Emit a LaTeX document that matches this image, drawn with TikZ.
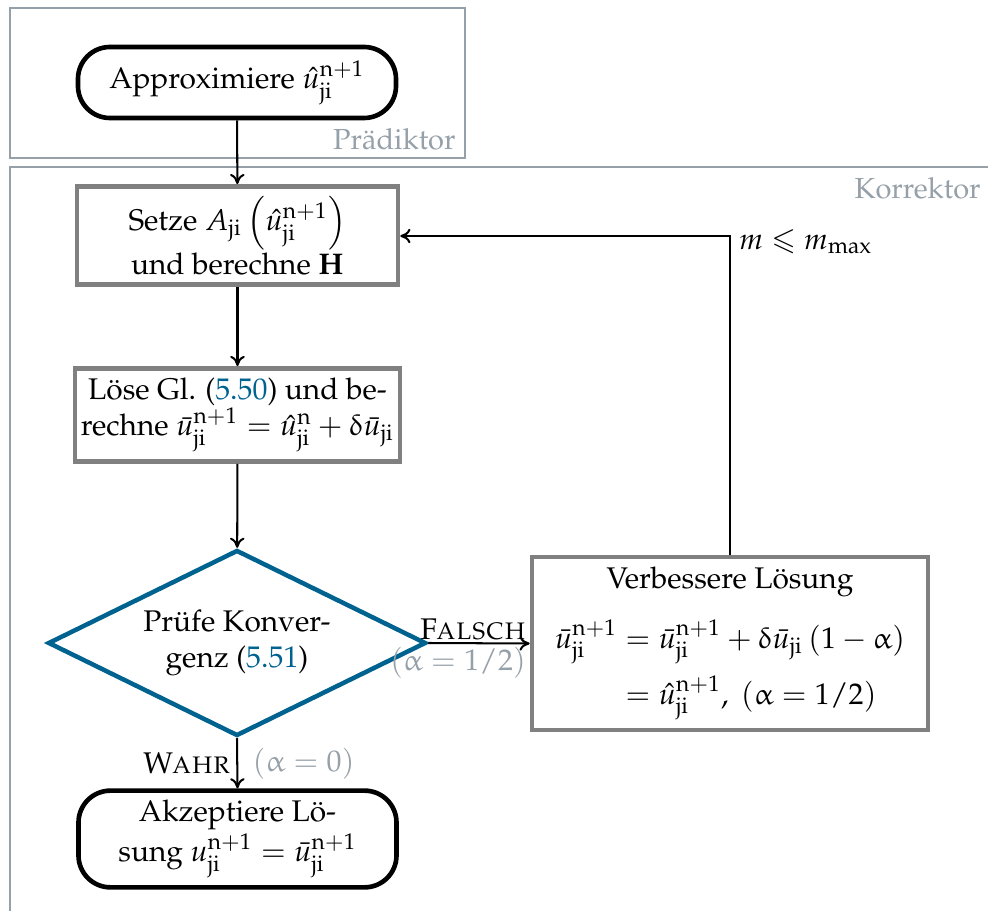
\documentclass[tikz,border=0pt]{standalone}
\usepackage[T1]{fontenc}
\usepackage{mathpazo}
\usepackage{amsmath,amssymb}
\usetikzlibrary{shapes.geometric,arrows.meta}
\DeclareSymbolFont{eulerl}{U}{eur}{m}{n}
\DeclareMathSymbol{\alpha}{\mathord}{eulerl}{"0B}
\DeclareMathSymbol{\delta}{\mathord}{eulerl}{"0E}
\definecolor{framegray}{RGB}{150,160,168}
\definecolor{boxgray}{RGB}{128,128,128}
\definecolor{ctblue}{RGB}{0,98,143}
\newcommand{\ji}{\mathrm{ji}}
\newcommand{\np}{\mathrm{n+1}}
\tikzset{
  frame/.style={draw=framegray,line width=0.5pt},
  framelabel/.style={text=framegray,inner sep=1pt,font=\fontsize{10}{12}\selectfont},
  terminal/.style={draw=black,line width=1.6pt,rounded corners=11pt,align=center,
    minimum width=318*0.345pt},
  procbox/.style={draw=boxgray,line width=1.6pt,align=center,inner xsep=2pt,
    minimum width=321*0.345pt},
  decision/.style={diamond,draw=ctblue,line width=1.55pt,align=center,inner sep=0pt,
    aspect=2,minimum width=378*0.345pt,minimum height=186*0.345pt},
  flow/.style={-{To[length=3.5pt,width=5pt]},line width=0.7pt},
  graylbl/.style={text=framegray},
}
\begin{document}
\begin{tikzpicture}[x=0.345pt,y=-0.345pt,font=\fontsize{10.3}{12.4}\selectfont]
\useasboundingbox (0,0) rectangle (988,911);
% frames
\draw[frame] (10,8) rectangle (465,158);
\node[framelabel,anchor=south east] (pl) at (459,154) {Prädiktor};
\draw[frame] (10,915) -- (10,167) -- (992,167);
\node[framelabel,anchor=north east] (kl) at (984,174) {Korrektor};
% nodes
\node[terminal,minimum height=71*0.345pt] (appr) at (237,82.5)
  {Approximiere $\hat u_{\ji}^{\np}$};
\node[procbox,minimum height=95*0.345pt] (setze) at (237.5,235.5)
  {Setze $A_{\ji}\left(\hat u_{\ji}^{\np}\right)$\\und berechne $\mathbf{H}$};
\node[procbox,minimum height=92*0.345pt] (loese) at (237.5,415)
  {Löse Gl. (\textcolor{ctblue}{5.50}) und be-\\rechne $\bar u_{\ji}^{\np}=\hat u_{\ji}^{\mathrm{n}}+\delta\bar u_{\ji}$};
\node[decision] (dec) at (237,643)
  {Prüfe Konver-\\genz (\textcolor{ctblue}{5.51})};
\node[procbox,minimum width=396*0.345pt,minimum height=173*0.345pt] (verb) at (730,643.5)
  {Verbessere Lösung\\[7pt]
   $\begin{aligned}\bar u_{\ji}^{\np}&=\bar u_{\ji}^{\np}+\delta\bar u_{\ji}\,(1-\alpha)\\
   &=\hat u_{\ji}^{\np},\ (\alpha=1/2)\end{aligned}$};
\node[terminal,minimum height=88*0.345pt] (akz) at (237.5,839)
  {Akzeptiere Lö-\\sung $u_{\ji}^{\np}=\bar u_{\ji}^{\np}$};
\coordinate (corner) at (730,236);
% connectors
\draw[flow] (appr) -- (setze);
\draw[flow] (setze) -- (loese);
\draw[flow] (loese) -- (dec);
\draw[flow] (dec.south) -- (akz.north)
  node[midway,left,inner sep=2pt] (wahr) {\textsc{Wahr}}
  node[midway,right,graylbl,inner sep=5pt] (a0) {$(\alpha=0)$};
\draw[flow] (dec.east) -- (verb.west)
  node[pos=1,above left,inner sep=1pt] (falsch) {\textsc{Falsch}}
  node[pos=1,below left,graylbl,inner sep=1pt] (ahalf) {$(\alpha=1/2)$};
\draw[flow] (verb.north) -- (corner) -- (setze.east |- corner);
\node[anchor=west,inner sep=2pt] (mlbl) at ([xshift=1pt,yshift=-2pt]corner) {$m\leqslant m_{\max}$};
\end{tikzpicture}
\end{document}
